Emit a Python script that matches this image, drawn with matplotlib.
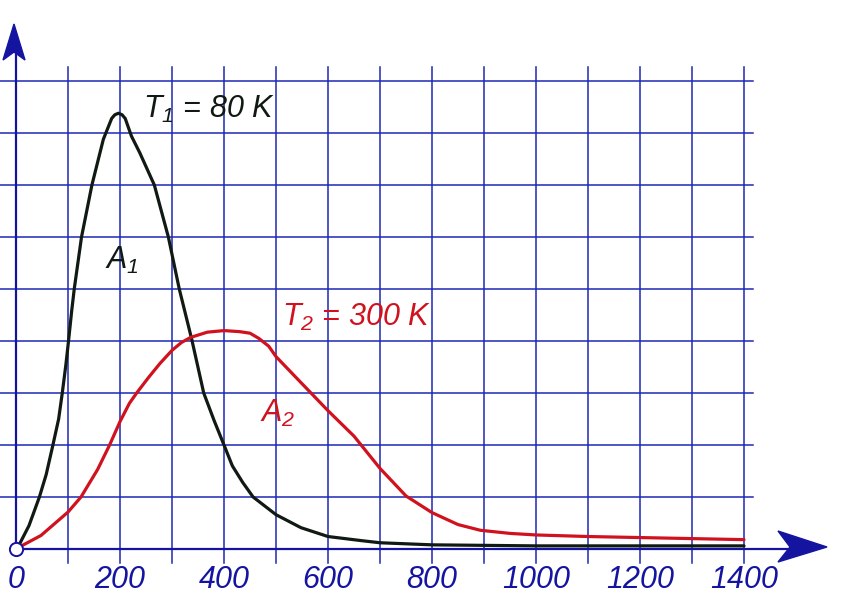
import matplotlib
matplotlib.use('Agg')
import matplotlib.pyplot as plt
from matplotlib.patches import Polygon

plt.rcParams['font.family'] = ['Liberation Sans', 'DejaVu Sans']
plt.rcParams['mathtext.fontset'] = 'custom'
plt.rcParams['mathtext.it'] = 'Liberation Sans:italic'
plt.rcParams['mathtext.rm'] = 'Liberation Sans:italic'

# courbes (x en unites de l'axe, y en carreaux)
x_T1 = [0, 5, 25, 45, 58, 71, 82, 89, 96, 101, 107, 112, 126, 146, 168,
        184, 190, 197, 204, 210, 222, 238, 266, 293, 314, 338, 361, 381,
        400, 416, 436, 456, 500, 548, 600, 665, 700, 800, 900, 1000, 1200,
        1400]
y_T1 = [0, 0.06, 0.45, 1.0, 1.43, 2.0, 2.5, 3.0, 3.55, 4.0, 4.57, 5.0, 6.0,
        7.0, 7.88, 8.28, 8.35, 8.38, 8.35, 8.28, 7.94, 7.62, 7.0, 6.0, 5.0,
        4.03, 3.0, 2.47, 2.0, 1.6, 1.28, 1.0, 0.66, 0.41, 0.24, 0.16, 0.12,
        0.08, 0.07, 0.06, 0.06, 0.06]

x_T2 = [0, 5, 48, 100, 125, 157, 180, 200, 218, 232, 255, 277, 300, 318,
        336, 368, 400, 430, 450, 467, 486, 500, 548, 600, 650, 700, 750,
        800, 850, 893, 950, 1000, 1100, 1200, 1300, 1400]
y_T2 = [0, 0.03, 0.26, 0.71, 1.0, 1.53, 2.0, 2.45, 2.8, 3.0, 3.3, 3.57,
        3.82, 3.97, 4.07, 4.17, 4.2, 4.18, 4.15, 4.05, 3.9, 3.7, 3.2, 2.66,
        2.17, 1.55, 1.02, 0.7, 0.47, 0.36, 0.3, 0.27, 0.24, 0.22, 0.2, 0.18]

x_ticks = [0, 200, 400, 600, 800, 1000, 1200, 1400]
x_grid = list(range(100, 1500, 100))
y_grid = list(range(1, 10))

BLUE = '#1c28b4'
DARK_BLUE = '#1414a0'
BLACK = '#101a12'
RED = '#d0121e'

# echelle : pixels de l'image -> coordonnees
X0, Y0, SX, SY = 16, 549, 0.52, 52.0
W, H = 861, 611


def px(u, v):
    return ((u - X0) / SX, (Y0 - v) / SY)


fig = plt.figure(figsize=(W / 100, H / 100), dpi=100)
ax = fig.add_axes([0, 0, 1, 1])
ax.set_xlim(px(0, 0)[0], px(W, 0)[0])
ax.set_ylim(px(0, H)[1], px(0, 0)[1])
ax.axis('off')

# quadrillage
y_top = px(0, 67)[1]
y_bot = px(0, 563)[1]
x_left = px(0, 0)[0]
x_right = px(753, 0)[0]
for xv in x_grid:
    ax.plot([xv, xv], [y_bot, y_top], color=BLUE, lw=1.1, zorder=1)
for yv in y_grid:
    ax.plot([x_left, x_right], [yv, yv], color=BLUE, lw=1.1, zorder=1)

# axes avec fleches
ax.plot([0, 0], [0, px(0, 50)[1]], color=DARK_BLUE, lw=1.6, zorder=2)
ax.plot([0, px(790, 0)[0]], [0, 0], color=DARK_BLUE, lw=1.6, zorder=2)
arrow_y = Polygon([px(14, 24), px(25, 60), px(14, 52), px(3, 60)],
                  closed=True, color=DARK_BLUE, zorder=3)
arrow_x = Polygon([px(827, 547), px(778, 531), px(790, 547), px(778, 562)],
                  closed=True, color=DARK_BLUE, zorder=3)
ax.add_patch(arrow_y)
ax.add_patch(arrow_x)

# courbes
ax.plot(x_T1, y_T1, color=BLACK, lw=2.3, zorder=4,
        solid_capstyle='round', solid_joinstyle='round')
ax.plot(x_T2, y_T2, color=RED, lw=2.3, zorder=4,
        solid_capstyle='round', solid_joinstyle='round')

# origine
ax.plot([0], [0], 'o', ms=9.5, mfc='white', mec=DARK_BLUE, mew=1.4, zorder=5)

# graduations
for t in x_ticks:
    ax.text(t, px(0, 580)[1], str(t), ha='center', va='center',
            fontsize=22, style='italic', color=DARK_BLUE)

# annotations
ax.text(244, 8.45, r'$T_1$ = 80 K', fontsize=22, style='italic',
        color=BLACK, va='center', ha='left')
ax.text(171, 5.55, r'$A_1$', fontsize=22, color=BLACK, va='center', ha='left')
ax.text(512, 4.45, r'$T_2$ = 300 K', fontsize=22, style='italic',
        color=RED, va='center', ha='left')
ax.text(469, 2.6, r'$A_2$', fontsize=22, color=RED, va='center', ha='left')

fig.savefig('out.png', dpi=100, facecolor='white')
